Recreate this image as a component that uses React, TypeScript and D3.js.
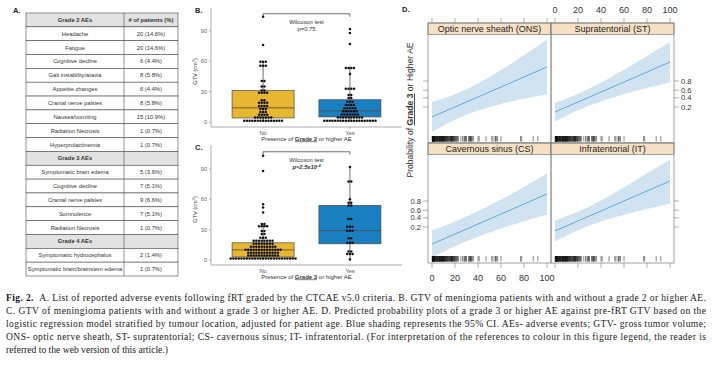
import * as d3 from 'd3';

// ---------- panel A: adverse events table ----------
const aeHeader = ['Grade 2 AEs', '# of patients (%)'];
const aeLabels = [
  'Headache', 'Fatigue', 'Cognitive decline', 'Gait instability/ataxia', 'Appetite changes',
  'Cranial nerve palsies', 'Nausea/vomiting', 'Radiation Necrosis', 'Hyperprolactinemia',
  'Grade 3 AEs', 'Symptomatic brain edema', 'Cognitive decline', 'Cranial nerve palsies',
  'Somnolence', 'Radiation Necrosis', 'Grade 4 AEs', 'Symptomatic hydrocephalus',
  'Symptomatic brain/brainstem edema',
];
const aeCounts = [
  '20 (14.6%)', '20 (14.6%)', '6 (4.4%)', '8 (5.8%)', '6 (4.4%)', '8 (5.8%)', '15 (10.9%)',
  '1 (0.7%)', '1 (0.7%)', '', '5 (3.6%)', '7 (5.1%)', '9 (6.6%)', '7 (5.1%)', '1 (0.7%)', '',
  '2 (1.4%)', '1 (0.7%)',
];
const aeSections = ['Grade 3 AEs', 'Grade 4 AEs'];

// ---------- panels B / C: GTV by AE grade ----------
const groups = ['No', 'Yes'];
const gtvGrade2No = [
  0.3, 0.4, 0.5, 0.6, 0.7, 0.8, 0.9, 1.0, 1.1, 1.3, 1.5, 1.7, 1.9, 2.1, 2.4,
  3.2, 3.6, 4.0, 4.4, 4.8, 5.2, 5.6, 6.2, 6.8, 7.4, 8.0, 9.2, 10.0, 10.8,
  12.0, 12.8, 13.5, 14.8, 15.5, 16.2, 17.0, 17.8, 18.6, 19.4, 20.2, 21.0, 21.8,
  27.5, 28.5, 29.5, 30.2, 31.0, 31.5, 34.5, 35.5, 40.0, 41.0, 54.5, 55.5, 56.5,
  59.0, 59.5, 60.0, 76.0, 104.0,
];
const gtvGrade2Yes = [
  0.3, 0.4, 0.5, 0.6, 0.7, 0.8, 0.9, 1.0, 1.1, 1.2, 1.3, 1.4, 1.5, 1.6, 1.7, 1.8, 1.9, 2.0, 2.2, 2.4,
  3.2, 3.5, 3.8, 4.1, 4.4, 4.7, 5.0, 5.3, 5.6, 5.9, 6.3, 6.7, 7.1, 7.5, 7.9, 8.3, 8.7,
  9.3, 9.8, 10.3, 10.8, 11.3, 11.8, 12.5, 13.0, 13.5, 14.0, 14.5, 15.5, 16.5, 17.5, 18.0,
  19.0, 20.0, 21.0, 23.0, 24.5, 26.0, 27.5, 31.5, 32.5, 33.5, 34.0, 47.5,
  52.5, 53.0, 53.5, 54.5, 77.0, 88.0, 92.0,
];
const gtvGrade3No = [
  0.2, 0.3, 0.4, 0.5, 0.6, 0.7, 0.8, 0.9, 1.0, 1.1, 1.2, 1.3, 1.4, 1.5, 1.6, 1.7, 1.8, 1.9, 2.0,
  2.1, 2.2, 2.3, 2.4, 2.5, 2.6,
  3.1, 3.3, 3.5, 3.7, 3.9, 4.1, 4.3, 4.5, 4.8, 5.0, 5.3, 5.6,
  6.0, 6.2, 6.4, 6.6, 6.8, 7.0, 7.2, 7.5, 7.8, 8.0, 8.3, 8.5,
  8.8, 9.0, 9.2, 9.4, 9.6, 9.8, 10.0, 10.2, 10.4, 10.6, 10.8, 11.0, 11.2, 11.4,
  11.8, 12.0, 12.3, 12.6, 12.9, 13.2, 13.5, 13.8, 14.0, 14.3,
  14.8, 15.2, 15.6, 16.0, 16.4, 16.8, 17.0, 17.3,
  17.8, 18.0, 18.4, 18.8, 19.2, 19.6, 19.9, 20.2,
  21.0, 22.0, 23.0, 25.0, 26.5, 28.0, 29.5, 32.0, 33.0, 34.0, 34.5, 35.0, 36.0,
  47.0, 52.0, 55.0, 88.0, 103.0,
];
const gtvGrade3Yes = [
  0.5, 5.0, 6.5, 7.0, 8.0, 9.0, 16.0, 17.0, 18.0, 21.0, 22.0, 28.0, 29.0, 30.0, 32.0,
  33.0, 33.5, 40.0, 41.0, 53.0, 55.0, 56.0, 57.0, 60.0, 77.0, 78.0, 92.0,
];
// [lower whisker, Q1, median, Q3, upper whisker]
const boxGrade2No = [0.3, 4, 14, 31, 60];
const boxGrade2Yes = [0.3, 5, 11, 22, 55];
const boxGrade3No = [0.2, 3, 10, 17, 36];
const boxGrade3Yes = [0.5, 16, 29, 54, 92];
const gtvTicks = [0, 30, 60, 90];

// ---------- panel D: predicted probability by location ----------
const locations = ['Optic nerve sheath (ONS)', 'Supratentorial (ST)', 'Cavernous sinus (CS)', 'Infratentorial (IT)'];
const gtvGrid = [0, 20, 40, 60, 80, 100];
const fitONS = [0.080, 0.201, 0.421, 0.679, 0.859, 0.947];
const lowONS = [0.017, 0.061, 0.146, 0.257, 0.375, 0.495];
const highONS = [0.299, 0.495, 0.756, 0.928, 0.984, 0.997];
const fitST = [0.128, 0.299, 0.552, 0.782, 0.912, 0.968];
const lowST = [0.051, 0.152, 0.312, 0.493, 0.652, 0.779];
const highST = [0.285, 0.505, 0.770, 0.930, 0.983, 0.996];
const fitCS = [0.039, 0.106, 0.255, 0.500, 0.743, 0.894];
const lowCS = [0.0096, 0.031, 0.081, 0.175, 0.316, 0.488];
const highCS = [0.147, 0.308, 0.572, 0.825, 0.947, 0.987];
const fitIT = [0.141, 0.323, 0.579, 0.801, 0.921, 0.971];
const lowIT = [0.051, 0.152, 0.310, 0.480, 0.632, 0.754];
const highIT = [0.334, 0.560, 0.808, 0.946, 0.987, 0.997];
const probTicks = [0.2, 0.4, 0.6, 0.8];
const gtvAxisTicks = [0, 20, 40, 60, 80, 100];

// ---------- caption ----------
const captionTag = 'Fig. 2.';
const captionLines = [
  'A. List of reported adverse events following fRT graded by the CTCAE v5.0 criteria. B. GTV of meningioma patients with and without a grade 2 or higher AE.',
  'C. GTV of meningioma patients with and without a grade 3 or higher AE. D. Predicted probability plots of a grade 3 or higher AE against pre-fRT GTV based on the',
  'logistic regression model stratified by tumour location, adjusted for patient age. Blue shading represents the 95% CI. AEs- adverse events; GTV- gross tumor volume;',
  'ONS- optic nerve sheath, ST- supratentorial; CS- cavernous sinus; IT- infratentorial. (For interpretation of the references to colour in this figure legend, the reader is',
  'referred to the web version of this article.)',
];

const SANS = "'Liberation Sans', Arial, Helvetica, sans-serif";
const SERIF = "'Liberation Serif', 'Times New Roman', serif";

// dot-density binning like geom_dotplot(binaxis = "y", stackdir = "center")
function dotLayout(values: number[], binwidth: number) {
  const s = [...values].sort((a, b) => a - b);
  const out: { v: number; k: number; n: number }[] = [];
  let i = 0;
  while (i < s.length) {
    let j = i;
    while (j < s.length && s[j] < s[i] + binwidth) j++;
    const center = (s[i] + s[j - 1]) / 2;
    for (let k = 0; k < j - i; k++) out.push({ v: center, k, n: j - i });
    i = j;
  }
  return out;
}

function AeTable() {
  const rows = [aeHeader, ...aeLabels.map((l, i) => [l, aeCounts[i]])];
  const band = d3.scaleBand<number>().domain(d3.range(rows.length)).range([13, 276]);
  const bw = band.bandwidth();
  const x0 = 26, xm = 124, x1 = 178;
  return (
    <g fontFamily={SANS}>
      <text x={13} y={13} fontSize={7.5} fontWeight="bold" fill="#222">A.</text>
      {rows.map((r, i) => {
        const y = band(i)!;
        const shaded = i === 0 || aeSections.includes(r[0]);
        return (
          <g key={i} fontSize={5.8} fill="#333">
            <rect x={x0} y={y} width={x1 - x0} height={bw} fill={shaded ? '#e2e2e2' : '#fff'} stroke="#4a4a4a" strokeWidth={0.6} />
            <line x1={xm} x2={xm} y1={y} y2={y + bw} stroke="#4a4a4a" strokeWidth={0.6} />
            <text x={(x0 + xm) / 2} y={y + bw / 2} dy="0.35em" textAnchor="middle" fontWeight={shaded ? 'bold' : 'normal'}>{r[0]}</text>
            <text x={(xm + x1) / 2} y={y + bw / 2} dy="0.35em" textAnchor="middle" fontWeight={i === 0 ? 'bold' : 'normal'}>{r[1]}</text>
          </g>
        );
      })}
    </g>
  );
}

type BoxProps = {
  tag: string; top: number; bottom: number; domain: [number, number];
  noVals: number[]; yesVals: number[]; noBox: number[]; yesBox: number[];
  grade: string; pMain: string; pExp?: string; italic?: boolean;
};

function BoxPanel(p: BoxProps) {
  const x = d3.scalePoint<string>().domain(groups).range([211, 402]).padding(0.6);
  const y = d3.scaleLinear().domain(p.domain).range([p.bottom, p.top]);
  const color = d3.scaleOrdinal<string, string>().domain(groups).range(['#e8b731', '#1a7fc1']);
  const boxW = 62;
  const cx = (x('No')! + x('Yes')!) / 2;
  const by = y(107);
  const stats = [p.noBox, p.yesBox];
  const vals = [p.noVals, p.yesVals];
  return (
    <g fontFamily={SANS}>
      <text x={195} y={p.top + 5} fontSize={7.5} fontWeight="bold" fill="#222">{p.tag}</text>
      {/* axes */}
      <line x1={211} x2={211} y1={p.top} y2={p.bottom} stroke="#8a8a8a" strokeWidth={0.7} />
      <line x1={211} x2={402} y1={p.bottom} y2={p.bottom} stroke="#8a8a8a" strokeWidth={0.7} />
      {gtvTicks.map((t) => (
        <g key={t}>
          <line x1={209} x2={211} y1={y(t)} y2={y(t)} stroke="#8a8a8a" strokeWidth={0.6} />
          <text x={207} y={y(t)} dy="0.35em" textAnchor="end" fontSize={5.6} fill="#666">{t}</text>
        </g>
      ))}
      <text transform={`translate(197,${y(50)}) rotate(-90)`} textAnchor="middle" fontSize={5.6} fill="#444">
        GTV (cm<tspan dy={-1.6} fontSize={4}>3</tspan><tspan dy={1.6}>)</tspan>
      </text>
      {groups.map((g) => (
        <g key={g}>
          <line x1={x(g)} x2={x(g)} y1={p.bottom} y2={p.bottom + 1.5} stroke="#8a8a8a" strokeWidth={0.6} />
          <text x={x(g)} y={p.bottom + 7.5} textAnchor="middle" fontSize={5.8} fill="#555">{g}</text>
        </g>
      ))}
      <text x={cx} y={p.bottom + 13.5} textAnchor="middle" fontSize={6} fill="#333">
        Presence of <tspan fontWeight="bold" style={{ textDecoration: 'underline' }}>{p.grade}</tspan> or higher AE
      </text>
      {/* boxes */}
      {groups.map((g, gi) => {
        const [lo, q1, med, q3, hi] = stats[gi];
        const c = x(g)!;
        return (
          <g key={g}>
            <line x1={c} x2={c} y1={y(lo)} y2={y(q1)} stroke="#333" strokeWidth={0.7} />
            <line x1={c} x2={c} y1={y(q3)} y2={y(hi)} stroke="#333" strokeWidth={0.7} />
            <rect x={c - boxW / 2} y={y(q3)} width={boxW} height={y(q1) - y(q3)} fill={color(g)} stroke="#4a4a4a" strokeWidth={0.7} />
            <line x1={c - boxW / 2} x2={c + boxW / 2} y1={y(med)} y2={y(med)} stroke="#4a4a4a" strokeWidth={0.8} />
          </g>
        );
      })}
      {/* dots */}
      {groups.map((g, gi) =>
        dotLayout(vals[gi], 2.8).map((d, i) => (
          <circle key={g + i} cx={x(g)! + (d.k - (d.n - 1) / 2) * 2.7} cy={y(d.v)} r={1.25} fill="#111" />
        ))
      )}
      {/* Wilcoxon bracket */}
      <path d={`M${x('No')},${by + 3}V${by}H${x('Yes')}V${by + 3}`} fill="none" stroke="#333" strokeWidth={0.7} />
      <text x={cx} y={by + 10} textAnchor="middle" fontSize={5.8} fill="#333">Wilcoxon test</text>
      <text x={cx} y={by + 17.5} textAnchor="middle" fontSize={5.8} fill="#333"
        fontStyle={p.italic ? 'italic' : 'normal'} fontWeight={p.italic ? 'bold' : 'normal'}>
        {p.pMain}
        {p.pExp && <tspan dy={-2} fontSize={4}>{p.pExp}</tspan>}
      </text>
    </g>
  );
}

function EffectsPlot() {
  const left = 428, colW = 123, top = 23, stripH = 11.5, plotH = 108.5;
  const logit = (v: number) => Math.log(v / (1 - v));
  const fits = [fitONS, fitST, fitCS, fitIT];
  const lows = [lowONS, lowST, lowCS, lowIT];
  const highs = [highONS, highST, highCS, highIT];
  const rug = [...gtvGrade3No, ...gtvGrade3Yes].filter((v) => v <= 100);
  const bottomAll = top + 2 * (stripH + plotH);
  return (
    <g fontFamily={SANS}>
      <text x={402} y={12} fontSize={7.5} fontWeight="bold" fill="#222">D.</text>
      <text transform="translate(413,110) rotate(-90)" textAnchor="middle" fontSize={8.6} fill="#333">
        Probability of <tspan fontWeight="bold" style={{ textDecoration: 'underline' }}>Grade 3</tspan> or Higher AE
      </text>
      {locations.map((name, i) => {
        const col = i % 2, row = Math.floor(i / 2);
        const x0 = left + col * colW;
        const sTop = top + row * (stripH + plotH);
        const pTop = sTop + stripH;
        const pBot = pTop + plotH;
        const x = d3.scaleLinear().domain([0, 100]).range([x0 + 4, x0 + colW - 4]);
        const y = d3.scaleLinear().domain([-5.22, 6.34]).range([pBot, pTop]);
        const area = d3.area<number>()
          .x((_, k) => x(gtvGrid[k]))
          .y0((_, k) => y(logit(lows[i][k])))
          .y1((_, k) => y(logit(highs[i][k])))
          .curve(d3.curveMonotoneX);
        const line = d3.line<number>()
          .x((_, k) => x(gtvGrid[k]))
          .y((d) => y(logit(d)))
          .curve(d3.curveMonotoneX);
        const clipId = `clip-${i}`;
        return (
          <g key={name}>
            <clipPath id={clipId}><rect x={x0} y={pTop} width={colW} height={plotH} /></clipPath>
            <g clipPath={`url(#${clipId})`}>
              <path d={area(fits[i]) ?? ''} fill="#d1e3f0" />
              <path d={line(fits[i]) ?? ''} fill="none" stroke="#3f9ad6" strokeWidth={0.8} />
              {rug.map((v, k) => (
                <line key={k} x1={x(v)} x2={x(v)} y1={pBot - 7} y2={pBot - 1.5} stroke="#111" strokeWidth={0.5} />
              ))}
            </g>
            <rect x={x0} y={sTop} width={colW} height={stripH} fill="#f6e1c5" stroke="#7a7a7a" strokeWidth={0.7} />
            <text x={x0 + colW / 2} y={sTop + stripH / 2} dy="0.36em" textAnchor="middle" fontSize={9} fill="#222">{name}</text>
            <rect x={x0} y={sTop} width={colW} height={stripH + plotH} fill="none" stroke="#7a7a7a" strokeWidth={0.7} />
            {/* x ticks */}
            {gtvAxisTicks.map((t) => (
              <g key={'x' + t}>
                {row === 0 && <line x1={x(t)} x2={x(t)} y1={top} y2={top - 5} stroke="#7a7a7a" strokeWidth={0.6} />}
                {row === 0 && col === 1 && (
                  <text x={x(t)} y={top - 10} textAnchor="middle" fontSize={9} fill="#333">{t}</text>
                )}
                {row === 1 && <line x1={x(t)} x2={x(t)} y1={bottomAll} y2={bottomAll + 5} stroke="#7a7a7a" strokeWidth={0.6} />}
                {row === 1 && col === 0 && (
                  <text x={x(t)} y={bottomAll + 17.5} textAnchor="middle" fontSize={9} fill="#333">{t}</text>
                )}
              </g>
            ))}
            {/* y ticks */}
            {probTicks.map((t) => (
              <g key={'y' + t}>
                {col === 0 && <line x1={x0} x2={x0 - 5} y1={y(logit(t))} y2={y(logit(t))} stroke="#7a7a7a" strokeWidth={0.6} />}
                {col === 0 && row === 1 && (
                  <text x={x0 - 7} y={y(logit(t))} dy="0.35em" textAnchor="end" fontSize={7.6} fill="#333">{t}</text>
                )}
                {col === 1 && <line x1={x0 + colW} x2={x0 + colW + 5} y1={y(logit(t))} y2={y(logit(t))} stroke="#7a7a7a" strokeWidth={0.6} />}
                {col === 1 && row === 0 && (
                  <text x={x0 + colW + 7} y={y(logit(t))} dy="0.35em" textAnchor="start" fontSize={7.6} fill="#333">{t}</text>
                )}
              </g>
            ))}
          </g>
        );
      })}
    </g>
  );
}

function Caption() {
  return (
    <g fontFamily={SERIF} fontSize={9.6} fill="#1a1a1a">
      {captionLines.map((line, i) => (
        <text key={i} x={6} y={301 + i * 13}
          textLength={i < captionLines.length - 1 ? 700 : undefined}
          lengthAdjust={i < captionLines.length - 1 ? 'spacing' : undefined}>
          {i === 0 && <tspan fontWeight="bold">{captionTag}</tspan>}
          {i === 0 ? '\u00a0\u00a0' + line : line}
        </text>
      ))}
    </g>
  );
}

export default function App() {
  return (
    <svg width={712} height={367} viewBox="0 0 712 367" style={{ position: 'absolute', left: 0, top: 0 }}>
      <rect width={712} height={367} fill="#fff" />
      <AeTable />
      <BoxPanel tag="B." top={8} bottom={127} domain={[-4.95, 112.7]}
        noVals={gtvGrade2No} yesVals={gtvGrade2Yes} noBox={boxGrade2No} yesBox={boxGrade2Yes}
        grade="Grade 2" pMain="p=0.75" />
      <BoxPanel tag="C." top={145} bottom={265} domain={[-4.95, 113.7]}
        noVals={gtvGrade3No} yesVals={gtvGrade3Yes} noBox={boxGrade3No} yesBox={boxGrade3Yes}
        grade="Grade 3" pMain="p=2.5x10" pExp="-4" italic />
      <EffectsPlot />
      <Caption />
    </svg>
  );
}
